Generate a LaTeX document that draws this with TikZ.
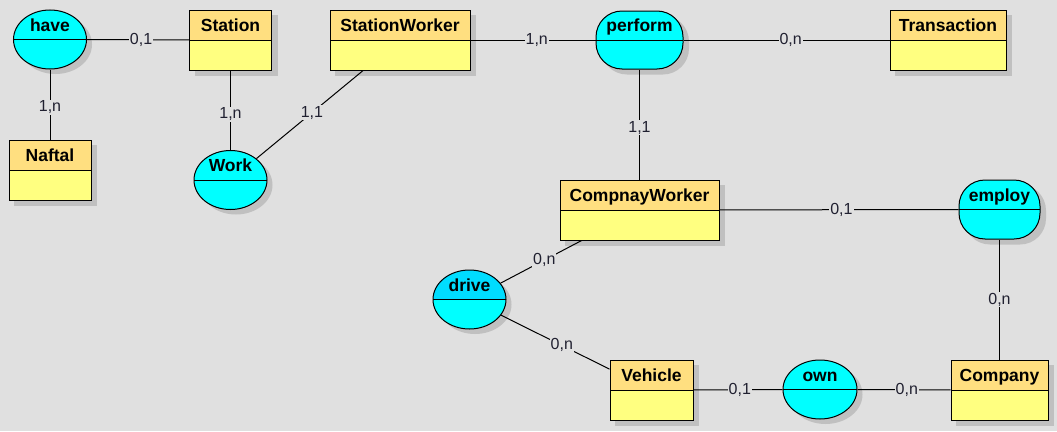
\documentclass[tikz,border=0pt]{standalone}
\usepackage{fontspec}
\setmainfont{Liberation Sans}
\usetikzlibrary{shapes.geometric}
\pgfdeclarelayer{back}
\pgfsetlayers{back,main}
\definecolor{bgc}{HTML}{E0E0E0}
\definecolor{hdrc}{HTML}{FFDF80}
\definecolor{bodyc}{HTML}{FFFF80}
\definecolor{assocc}{HTML}{00FFFF}
\definecolor{selc}{HTML}{00DDFF}
\definecolor{shadc}{HTML}{C0C0C0}
\definecolor{cardc}{HTML}{202030}
\begin{document}
\begin{tikzpicture}[x=1pt,y=-1pt,
  entity/.style={draw,fill=bodyc,line width=1pt,inner sep=0pt,minimum height=60pt,
    text height=21.5pt,text depth=38.5pt,font=\fontsize{17.5}{19}\selectfont\bfseries,
    path picture={\fill[hdrc] (path picture bounding box.north west) rectangle (path picture bounding box.east);
      \draw[line width=1pt] (path picture bounding box.west) -- (path picture bounding box.east);}},
  assoc/.style={ellipse,draw,fill=assocc,line width=1pt,inner sep=0pt,minimum width=73pt,minimum height=59pt,
    text height=2pt,text depth=19pt,font=\fontsize{17.5}{19}\selectfont\bfseries,
    path picture={\draw[line width=1pt] (path picture bounding box.west) -- (path picture bounding box.east);}},
  assocr/.style={assoc,rectangle,rounded corners=26pt},
  assocsel/.style={path picture={\fill[selc] (path picture bounding box.north west) rectangle (path picture bounding box.east);
      \draw[line width=1pt] (path picture bounding box.west) -- (path picture bounding box.east);}},
  shadow/.style={fill=shadc},
  link/.style={line width=1pt},
  card/.style={fill=bgc,inner sep=1pt,text=cardc,font=\fontsize{16}{18}\selectfont}]
\node[assoc] (have) at (50,39.5) {have};
\node[entity,minimum width=82pt] (naftal) at (50,170) {Naftal};
\node[entity,minimum width=82pt] (station) at (230.5,40) {Station};
\node[assoc] (work) at (230.5,180) {Work};
\node[entity,minimum width=140pt] (sworker) at (400,40) {StationWorker};
\node[assocr,minimum width=87pt,minimum height=58pt] (perform) at (639.5,40) {perform};
\node[entity,minimum width=116pt] (transaction) at (948,40) {Transaction};
\node[entity,minimum width=159pt] (cworker) at (639.5,210) {CompnayWorker};
\node[assocr,minimum width=81pt] (employ) at (999.5,209.5) {employ};
\node[assoc,assocsel] (drive) at (469.5,299.5) {drive};
\node[entity,minimum width=83pt] (vehicle) at (651.5,390) {Vehicle};
\node[assoc,minimum width=74pt] (own) at (820,389.5) {own};
\node[entity,minimum width=97pt] (company) at (999.5,390) {Company};
\draw[link] (have) -- node[card,pos=0.53] {0,1} (station);
\draw[link] (have) -- node[card,pos=0.54] {1,n} (naftal);
\draw[link] (station) -- node[card,pos=0.55] {1,n} (work);
\draw[link] (sworker) -- node[card,pos=0.48] {1,1} (work);
\draw[link] (sworker) -- node[card,pos=0.53] {1,n} (perform);
\draw[link] (perform) -- node[card,pos=0.52] {0,n} (transaction);
\draw[link] (perform) -- node[card,pos=0.53] {1,1} (cworker);
\draw[link] (cworker) -- node[card,pos=0.51] {0,1} (employ);
\draw[link] (employ) -- node[card,pos=0.5] {0,n} (company);
\draw[link] (cworker) -- node[card,pos=0.46] {0,n} (drive);
\draw[link] (drive) -- node[card,pos=0.56] {0,n} (vehicle);
\draw[link] (vehicle) -- node[card,pos=0.52] {0,1} (own);
\draw[link] (own) -- node[card,pos=0.53] {0,n} (company);
\begin{pgfonlayer}{back}
\fill[bgc] (0,0) rectangle (1057,431);
\foreach \e in {naftal,station,sworker,transaction,cworker,vehicle,company}
  \fill[shadow] ([shift={(5.5,5)}]\e.north west) rectangle ([shift={(5.5,5)}]\e.south east);
\foreach \a/\rx in {have/36.5,work/36.5,drive/36.5,own/37}
  \fill[shadow] ([shift={(5.5,5)}]\a.center) ellipse [x radius=\rx, y radius=29.5];
\foreach \a in {perform,employ}
  \fill[shadow,rounded corners=26pt] ([shift={(5.5,5)}]\a.north west) rectangle ([shift={(5.5,5)}]\a.south east);
\end{pgfonlayer}
\end{tikzpicture}
\end{document}
